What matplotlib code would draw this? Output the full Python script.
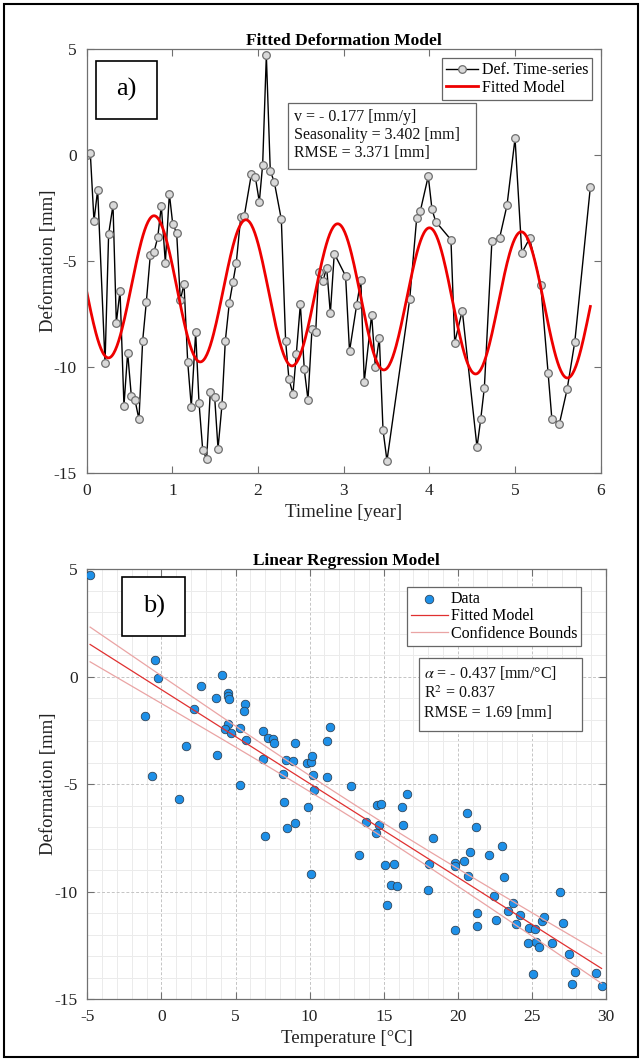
import numpy as np
import matplotlib
matplotlib.use("Agg")
import matplotlib.pyplot as plt
from matplotlib.patches import Rectangle

plt.rcParams['font.family'] = ['Liberation Serif', 'DejaVu Serif']
plt.rcParams['mathtext.fontset'] = 'stix'
plt.rcParams['axes.unicode_minus'] = False

W, H = 643, 1062

# ---- a) deformation time-series
time_yr = [0.0, 0.042, 0.085, 0.128, 0.214, 0.256, 0.307, 0.346, 0.389, 0.435,
           0.478, 0.521, 0.564, 0.610, 0.653, 0.696, 0.743, 0.786, 0.829, 0.871,
           0.918, 0.965, 1.004, 1.050, 1.093, 1.136, 1.179, 1.221, 1.272, 1.311,
           1.354, 1.400, 1.443, 1.494, 1.533, 1.579, 1.618, 1.665, 1.708, 1.746,
           1.798, 1.840, 1.922, 1.968, 2.015, 2.054, 2.097, 2.143, 2.190, 2.272,
           2.322, 2.361, 2.408, 2.447, 2.494, 2.540, 2.583, 2.630, 2.673, 2.708,
           2.758, 2.801, 2.844, 2.890, 3.022, 3.068, 3.152, 3.200, 3.240, 3.326,
           3.369, 3.416, 3.459, 3.505, 3.770, 3.852, 3.894, 3.987, 4.031, 4.074,
           4.252, 4.296, 4.384, 4.556, 4.600, 4.642, 4.730, 4.820, 4.906, 5.000,
           5.079, 5.170, 5.300, 5.386, 5.430, 5.518, 5.608, 5.698, 5.879]
defo_ts = [0.0, 0.11, -3.1, -1.63, -9.8, -3.72, -2.36, -7.91, -6.4, -11.82,
           -9.32, -11.37, -11.56, -12.47, -8.77, -6.93, -4.69, -4.56, -3.88, -2.39,
           -5.07, -1.82, -3.24, -3.66, -6.84, -6.08, -9.76, -11.87, -8.36, -11.68,
           -13.9, -14.34, -11.16, -11.43, -13.85, -11.79, -8.77, -6.96, -5.97, -5.08,
           -2.92, -2.85, -0.9, -1.02, -2.2, -0.44, 4.72, -0.74, -1.27, -3.03,
           -8.77, -10.58, -11.26, -9.37, -7.04, -10.11, -11.54, -8.19, -8.35, -5.5,
           -5.94, -5.3, -7.47, -4.64, -5.7, -9.25, -7.05, -5.88, -10.69, -7.53,
           -9.98, -8.62, -12.97, -14.42, -6.81, -2.97, -2.64, -0.99, -2.56, -3.13,
           -3.99, -8.84, -7.33, -13.78, -12.44, -10.97, -4.04, -3.9, -2.37, 0.79,
           -4.61, -3.93, -6.12, -10.28, -12.45, -12.67, -11.05, -8.8, -1.51]

# fitted seasonal model parameters
vel = -0.177        # mm/y
season = 3.402      # mm
offset = -6.12      # mm
period = 1.0716     # years
t_trough = 0.252    # year of first minimum

# ---- b) temperature vs deformation
temp_c = [-4.81, -0.4, -0.2, -1.1, 2.7, 2.18, 1.67, -0.63, 1.17, 3.69,
          4.09, 4.5, 4.48, 4.59, 5.67, 5.58, 3.76, 4.5, 4.3, 4.7,
          5.31, 5.69, 6.88, 7.22, 7.51, 7.6, 9.0, 6.88, 8.39, 8.9,
          9.8, 10.09, 10.18, 11.2, 11.4, 8.18, 10.2, 11.2, 10.3, 5.31,
          12.79, 16.59, 8.3, 9.89, 9.02, 8.5, 6.99, 10.09, 13.35, 14.57,
          14.81, 16.21, 13.78, 14.7, 16.3, 14.5, 15.08, 15.69, 15.49, 15.91,
          15.22, 18.3, 18.07, 18.0, 19.8, 19.8, 19.8, 20.59, 21.2, 20.8,
          20.41, 20.7, 22.12, 22.99, 23.11, 22.41, 23.7, 23.4, 24.21, 21.29,
          21.29, 22.57, 23.9, 24.79, 25.22, 24.77, 25.31, 25.49, 25.69, 25.8,
          26.39, 26.88, 27.11, 27.49, 25.08, 27.92, 27.69, 29.31, 29.7]
defo_sc = [4.72, 0.78, -0.05, -1.82, -0.44, -1.48, -3.23, -4.63, -5.67, -1.0,
           0.1, -0.75, -0.88, -1.05, -1.25, -1.59, -3.65, -2.18, -2.41, -2.63,
           -2.38, -2.95, -2.53, -2.86, -2.89, -3.09, -3.08, -3.85, -3.88, -3.92,
           -4.0, -3.96, -3.71, -3.01, -2.35, -4.53, -4.58, -4.67, -5.26, -5.06,
           -5.08, -5.47, -5.85, -6.05, -6.8, -7.03, -7.43, -9.2, -8.32, -5.95,
           -5.92, -6.08, -6.78, -6.88, -6.92, -7.29, -8.75, -8.71, -9.68, -9.73,
           -10.63, -7.5, -8.72, -9.92, -8.69, -8.81, -11.8, -6.36, -7.0, -8.16,
           -8.58, -9.28, -8.29, -7.87, -9.33, -10.21, -10.52, -10.91, -11.11, -10.99,
           -11.62, -11.33, -11.5, -11.71, -11.74, -12.38, -12.35, -12.6, -11.36, -11.19,
           -12.38, -10.04, -11.48, -12.91, -13.85, -13.73, -14.32, -13.8, -14.4]

alpha = -0.437      # mm/degC
intercept = -0.60   # mm
rmse_b = 1.69
t_crit = 1.985

assert len(time_yr) == len(defo_ts)
assert len(temp_c) == len(defo_sc)


def fig_rect(x0, y0, x1, y1):
    # pixel box (top-left origin) -> figure fraction
    return [x0 / W, 1 - y1 / H, (x1 - x0) / W, (y1 - y0) / H]


def style_axes(ax):
    for s in ax.spines.values():
        s.set_color('#707070')
        s.set_linewidth(0.9)
    ax.tick_params(direction='in', top=True, right=True, length=5, width=0.8,
                   color='#707070', labelsize=12.5, labelcolor='#222222', pad=7)


def label_box(x0, y0, x1, y1, txt):
    r = Rectangle((x0 / W, 1 - y1 / H), (x1 - x0) / W, (y1 - y0) / H,
                  transform=fig.transFigure, fill=True, facecolor='white',
                  edgecolor='black', linewidth=1.2, zorder=5)
    fig.add_artist(r)
    fig.text((x0 + x1) / 2 / W, 1 - (y0 + y1) / 2 / H, txt, fontsize=19,
             ha='center', va='center', zorder=6)


def info_box(x0, y0, x1, y1, lines, xs, ys):
    r = Rectangle((x0 / W, 1 - y1 / H), (x1 - x0) / W, (y1 - y0) / H,
                  transform=fig.transFigure, facecolor='white',
                  edgecolor='#666666', linewidth=0.9, zorder=5)
    fig.add_artist(r)
    for s, yy in zip(lines, ys):
        fig.text(xs / W, 1 - yy / H, s, fontsize=11.5, ha='left', va='center',
                 color='#111111', zorder=6)


fig = plt.figure(figsize=(W / 100, H / 100), dpi=100)

# ================= a) =================
ax1 = fig.add_axes(fig_rect(86.7, 49.3, 600.7, 473))
t_arr = np.array(time_yr)
t_fit = np.linspace(t_arr.min(), t_arr.max(), 600)
d_fit = offset + vel * t_fit - season * np.cos(2 * np.pi * (t_fit - t_trough) / period)

ax1.plot(time_yr, defo_ts, '-o', color='black', lw=1.0, ms=5.5,
         mfc='#d9d9d9', mec='#6e6e6e', mew=0.9, label='Def. Time-series')
ax1.plot(t_fit, d_fit, color='#ee0000', lw=2.0, label='Fitted Model')
ax1.set_xlim(0, 6)
ax1.set_ylim(-15, 5)
ax1.set_xticks(range(0, 7))
ax1.set_yticks([-15, -10, -5, 0, 5])
style_axes(ax1)
ax1.set_title('Fitted Deformation Model', fontsize=12.5, fontweight='bold', pad=3)
ax1.set_xlabel('Timeline [year]', fontsize=13.5, color='#222222', labelpad=4)
ax1.set_ylabel('Deformation [mm]', fontsize=13.5, color='#222222')
ax1.yaxis.set_label_coords(-0.057, 0.5)
leg1 = ax1.legend(loc='upper right', bbox_to_anchor=(592.3 / W, 1 - 58.3 / H),
                  bbox_transform=fig.transFigure, fancybox=False, framealpha=1,
                  edgecolor='#666666', fontsize=11.5, borderaxespad=0,
                  handlelength=2.0, handletextpad=0.25, borderpad=0.25,
                  labelspacing=0.1)
leg1.get_frame().set_linewidth(0.9)

label_box(96, 60.7, 157.3, 119, 'a)')
info_box(288.3, 102.7, 475.7, 169,
         ['v = - 0.177 [mm/y]', 'Seasonality = 3.402 [mm]', 'RMSE = 3.371 [mm]'],
         294, [116.7, 135, 153.3])

# ================= b) =================
ax2 = fig.add_axes(fig_rect(87.3, 569.3, 606, 999))
x_arr = np.array(temp_c)
x_line = np.linspace(x_arr.min(), x_arr.max(), 300)
y_line = intercept + alpha * x_line
n = len(x_arr)
sxx = np.sum((x_arr - x_arr.mean()) ** 2)
half = t_crit * rmse_b * np.sqrt(1.0 / n + (x_line - x_arr.mean()) ** 2 / sxx)

ax2.set_axisbelow(True)
ax2.scatter(temp_c, defo_sc, s=38, color='#1e90e8', edgecolors='#2c3e50',
            linewidths=0.55, zorder=3, label='Data')
ax2.plot(x_line, y_line, color='#e03030', lw=0.9, zorder=4, label='Fitted Model')
ax2.plot(x_line, y_line + half, color='#eaa4a4', lw=0.9, zorder=4,
         label='Confidence Bounds')
ax2.plot(x_line, y_line - half, color='#eaa4a4', lw=0.9, zorder=4)
ax2.set_xlim(-5, 30)
ax2.set_ylim(-15, 5)
ax2.set_xticks(range(-5, 31, 5))
ax2.set_yticks([-15, -10, -5, 0, 5])
ax2.set_xticks(np.arange(-5, 31, 1), minor=True)
ax2.set_yticks(np.arange(-15, 6, 1), minor=True)
ax2.grid(which='minor', color='#ebebeb', lw=0.7, ls='-')
ax2.grid(which='major', color='#c4c4c4', lw=0.7, ls=(0, (3, 2)))
ax2.tick_params(which='minor', length=0)
style_axes(ax2)
ax2.set_title('Linear Regression Model', fontsize=12.5, fontweight='bold', pad=3)
ax2.set_xlabel('Temperature [°C]', fontsize=13.5, color='#222222', labelpad=4)
ax2.set_ylabel('Deformation [mm]', fontsize=13.5, color='#222222')
ax2.yaxis.set_label_coords(-0.058, 0.5)
leg2 = ax2.legend(loc='upper right', bbox_to_anchor=(581.3 / W, 1 - 586.7 / H),
                  bbox_transform=fig.transFigure, fancybox=False, framealpha=1,
                  edgecolor='#666666', fontsize=11.5, borderaxespad=0,
                  handlelength=2.3, handletextpad=0.2, borderpad=0.25,
                  labelspacing=0.1)
leg2.get_frame().set_linewidth(0.9)

label_box(122.3, 577.3, 185.3, 635.7, 'b)')
info_box(419, 658.3, 582.3, 730.7,
         [r'$\alpha$ = - 0.437 [mm/°C]', r'R$^2$ = 0.837', 'RMSE = 1.69 [mm]'],
         424, [673.3, 693.3, 713.3])

# outer frame
fig.add_artist(Rectangle((4 / W, 1 - 1057 / H), 634 / W, 1053 / H,
                         transform=fig.transFigure, fill=False,
                         edgecolor='black', linewidth=1.5))

fig.savefig('out.png', dpi=100)
